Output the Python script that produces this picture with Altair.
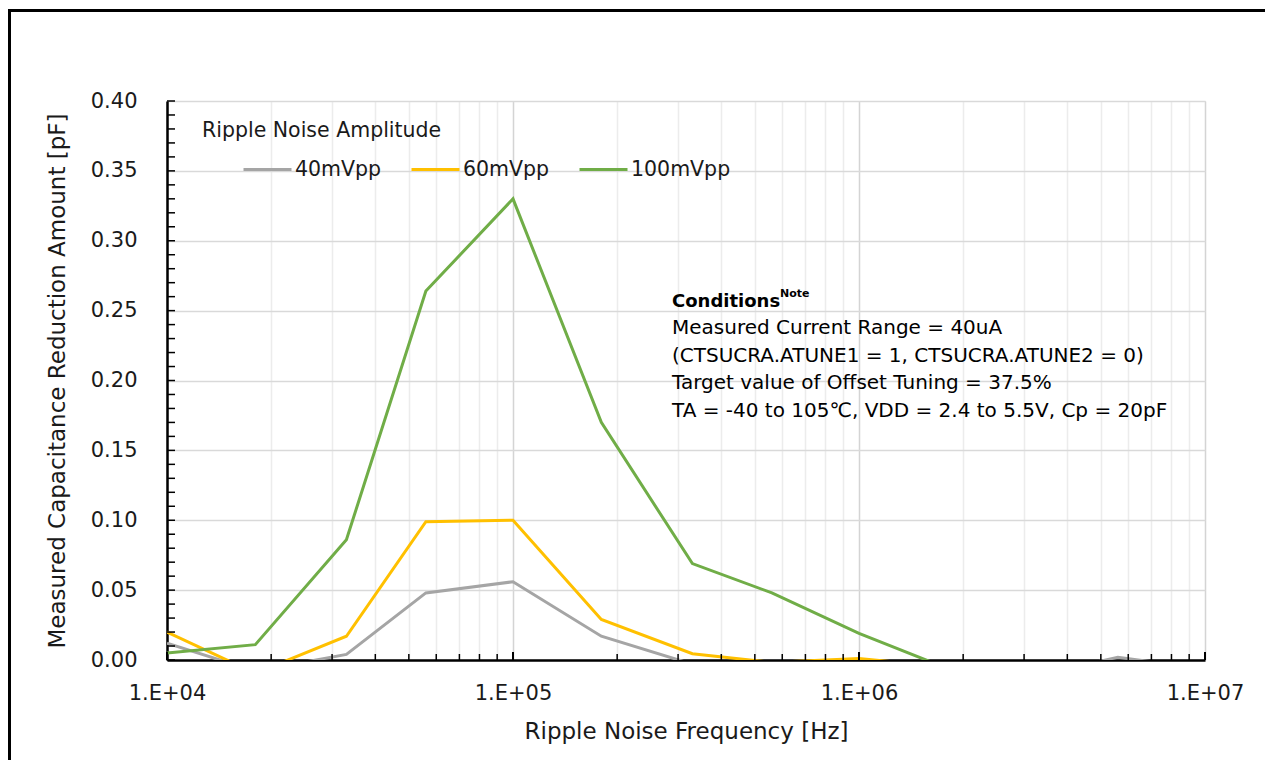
import altair as alt
import pandas as pd

# ---- data ----
freqs = [1e4, 1.8e4, 3.3e4, 5.6e4, 1e5, 1.8e5, 3.3e5, 5.6e5, 1e6, 1.8e6, 3.3e6, 5.6e6, 1e7]
amp_40 = [0.012, -0.008, 0.004, 0.048, 0.056, 0.017, -0.003, -0.010, -0.010, -0.010, -0.011, 0.002, -0.0065]
amp_60 = [0.020, -0.0095, 0.017, 0.099, 0.100, 0.029, 0.0045, -0.0017, 0.001, -0.005, -0.015, -0.010, -0.010]
amp_100 = [0.005, 0.011, 0.086, 0.264, 0.330, 0.170, 0.069, 0.048, 0.019, -0.006, -0.020, -0.020, -0.020]
series = ["40mVpp", "60mVpp", "100mVpp"]
colors = ["#A5A5A5", "#FFC000", "#70AD47"]
legend_title = "Ripple Noise Amplitude"

y_major = [0.00, 0.05, 0.10, 0.15, 0.20, 0.25, 0.30, 0.35, 0.40]
y_minor = [round(i * 0.01, 2) for i in range(41)]
x_ticks = [m * 10 ** e for e in (4, 5, 6) for m in range(1, 10)] + [1e7]
x_major = [1e4, 1e5, 1e6, 1e7]
x_minor = [v for v in x_ticks if v not in x_major]

cond_lines = [
    "Measured Current Range = 40uA",
    "\u00a0(CTSUCRA.ATUNE1 = 1, CTSUCRA.ATUNE2 = 0)",
    "Target value of Offset Tuning = 37.5%",
    "TA = -40 to 105\u2103, VDD = 2.4 to 5.5V, Cp = 20pF",
]

rows = []
for name, vals in zip(series, [amp_40, amp_60, amp_100]):
    for f, v in zip(freqs, vals):
        rows.append({"freq": f, "amount": v, "series": name})
df = pd.DataFrame(rows)

FONT = "DejaVu Sans"
TXT = "#1a1a1a"
W, H = 1038, 559

is_major = "abs(log(datum.value)/LN10 - round(log(datum.value)/LN10)) < 0.000001"

x_scale = alt.Scale(type="log", domain=[1e4, 1e7], nice=False)
y_scale = alt.Scale(domain=[0, 0.4], nice=False)

x_axis = alt.Axis(
    values=x_ticks,
    labelExpr=f"{is_major} ? '1.E+0' + round(log(datum.value)/LN10) : ''",
    ticks=False,
    grid=True,
    gridColor={"condition": {"test": is_major, "value": "#d4d4d4"}, "value": "#ececec"},
    gridWidth=1.5,
    domainColor="black",
    domainWidth=2.5,
    labelFont=FONT,
    labelFontSize=21,
    labelColor=TXT,
    labelPadding=22,
    labelFlush=False,
    labelOverlap=False,
    title="Ripple Noise Frequency  [Hz]",
    titleFont=FONT,
    titleFontSize=23,
    titleFontWeight="normal",
    titleColor=TXT,
    titlePadding=17,
)
y_axis = alt.Axis(
    values=y_major,
    format=".2f",
    ticks=False,
    grid=True,
    gridColor="#d9d9d9",
    gridWidth=1.5,
    domainColor="black",
    domainWidth=2.5,
    labelFont=FONT,
    labelFontSize=21,
    labelColor=TXT,
    labelPadding=30,
    title="Measured Capacitance Reduction Amount  [pF]",
    titleFont=FONT,
    titleFontSize=23,
    titleFontWeight="normal",
    titleColor=TXT,
    titlePadding=21,
)

lines = alt.Chart(df).mark_line(strokeWidth=3, clip=True).encode(
    x=alt.X("freq:Q", scale=x_scale, axis=x_axis),
    y=alt.Y("amount:Q", scale=y_scale, axis=y_axis),
    color=alt.Color(
        "series:N",
        scale=alt.Scale(domain=series, range=colors),
        sort=series,
        legend=alt.Legend(
            title=None,
            orient="none",
            direction="horizontal",
            legendX=75,
            legendY=43,
            padding=0,
            labelFont=FONT,
            labelFontSize=20.5,
            labelColor=TXT,
            labelLimit=300,
            labelOffset=2,
            symbolType="stroke",
            symbolSize=2304,
            symbolStrokeWidth=3,
            columnPadding=23,
        ),
    ),
    order=alt.Order("freq:Q"),
)

legend_head = alt.Chart(pd.DataFrame({"t": [legend_title]})).mark_text(
    align="left", baseline="alphabetic", font=FONT, fontSize=20.5, color=TXT
).encode(x=alt.value(35), y=alt.value(36), text="t:N")

# inward tick marks
ytick_df = pd.DataFrame({"amount": y_minor})
yticks = alt.Chart(ytick_df).mark_rule(color="black", strokeWidth=1.5).encode(
    y=alt.Y("amount:Q", scale=y_scale, axis=y_axis),
    x=alt.value(0),
    x2=alt.value(8),
)
xmaj_df = pd.DataFrame({"freq": x_major})
xmin_df = pd.DataFrame({"freq": x_minor})
xticks_major = alt.Chart(xmaj_df).mark_rule(color="black", strokeWidth=2).encode(
    x=alt.X("freq:Q", scale=x_scale, axis=x_axis),
    y=alt.value(H),
    y2=alt.value(H - 8),
)
xticks_minor = alt.Chart(xmin_df).mark_rule(color="black", strokeWidth=1.5).encode(
    x=alt.X("freq:Q", scale=x_scale, axis=x_axis),
    y=alt.value(H),
    y2=alt.value(H - 6),
)

# conditions annotation
cond_head = alt.Chart(pd.DataFrame({"t": ["Conditions"]})).mark_text(
    align="left", baseline="alphabetic", font=FONT, fontSize=18, fontWeight="bold", color="black"
).encode(x=alt.value(505), y=alt.value(206), text="t:N")
cond_note = alt.Chart(pd.DataFrame({"t": ["Note"]})).mark_text(
    align="left", baseline="alphabetic", font=FONT, fontSize=11, fontWeight="bold", color="black"
).encode(x=alt.value(613), y=alt.value(196), text="t:N")

body_y = [233, 261, 288, 316]
body_layers = []
for line, yy in zip(cond_lines, body_y):
    body_layers.append(
        alt.Chart(pd.DataFrame({"t": [line]})).mark_text(
            align="left", baseline="alphabetic", font=FONT, fontSize=20, color="black"
        ).encode(x=alt.value(505), y=alt.value(yy), text="t:N")
    )

frame = alt.Chart(pd.DataFrame({"k": [0]})).mark_rect(
    fill="transparent", stroke="black", strokeWidth=3
).encode(
    x=alt.value(-157.5), x2=alt.value(1400), y=alt.value(-90.5), y2=alt.value(900)
)

chart = alt.layer(
    lines, legend_head, yticks, xticks_major, xticks_minor, cond_head, cond_note, *body_layers, frame
).properties(
    width=W,
    height=H,
    autosize=alt.AutoSizeParams(type="none"),
    padding={"left": 159, "top": 93, "right": 60, "bottom": 100},
).configure_view(strokeWidth=0).configure(background="white")

chart.save("out.html", embed_options={"renderer": "svg", "actions": False})
